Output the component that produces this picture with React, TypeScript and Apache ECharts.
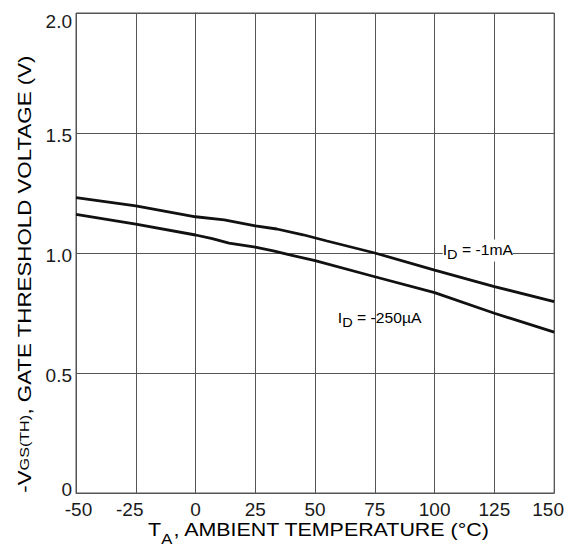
import React, { useEffect, useRef } from "react";
import * as echarts from "echarts";

const xTicks = [-50, -25, 0, 25, 50, 75, 100, 125, 150];
const yTicks = [0, 0.5, 1.0, 1.5, 2.0];

const tempA = [-50, -25, 0, 12, 25, 34, 45, 55, 75, 100, 125, 150];
const id1mA = [1.231, 1.196, 1.151, 1.138, 1.113, 1.1, 1.076, 1.05, 1.0, 0.929, 0.86, 0.797];

const tempB = [-50, -25, 0, 7, 14, 25, 33, 39, 50, 75, 100, 125, 150];
const id250uA = [1.161, 1.12, 1.075, 1.06, 1.041, 1.024, 1.008, 0.993, 0.968, 0.901, 0.835, 0.749, 0.67];

const labelA = { text: "-1mA", x: 103.4, y: 1.01 };
const labelB = { text: "-250µA", x: 59.5, y: 0.729 };

const FONT = "Liberation Sans";
const INK = "#1a1a1a";

export default function App() {
  const ref = useRef<HTMLDivElement>(null);
  useEffect(() => {
    document.body.style.margin = "0";
    const chart = echarts.init(ref.current!, null, { renderer: "svg" });
    const tick = { fontSize: 19, fontFamily: FONT, color: INK };
    chart.setOption({
      animation: false,
      backgroundColor: "#fff",
      grid: {
        left: 76,
        right: 12,
        top: 13,
        bottom: 54,
        show: true,
        borderColor: "#555",
        borderWidth: 1,
        backgroundColor: "transparent",
      },
      xAxis: {
        type: "value",
        min: xTicks[0],
        max: xTicks[xTicks.length - 1],
        interval: 25,
        axisLine: { show: true, lineStyle: { color: "#555", width: 1 } },
        axisTick: { show: false },
        splitLine: { show: true, lineStyle: { color: "#555", width: 1 } },
        axisLabel: {
          ...tick,
          margin: 7,
          formatter: (v: number) => {
            if (v === xTicks[0]) return "{l|" + v + "}";
            if (v === xTicks[xTicks.length - 1]) return "{r|" + v + "}";
            if (v < 0) return "{r|" + v + "}";
            return "{n|" + v + "}";
          },
          rich: {
            n: { ...tick },
            l: { ...tick, padding: [0, 0, 0, 5] },
            r: { ...tick, padding: [0, 12, 0, 0] },
          },
        },
      },
      yAxis: {
        type: "value",
        min: yTicks[0],
        max: yTicks[yTicks.length - 1],
        interval: 0.5,
        axisLine: { show: true, lineStyle: { color: "#555", width: 1 } },
        axisTick: { show: false },
        splitLine: { show: true, lineStyle: { color: "#555", width: 1 } },
        axisLabel: {
          ...tick,
          margin: 4,
          formatter: (v: number) => {
            if (v === 0) return "{b|0}";
            if (v === yTicks[yTicks.length - 1]) return "{t|" + v.toFixed(1) + "}";
            return "{m|" + v.toFixed(1) + "}";
          },
          rich: {
            t: { ...tick, padding: [16, 0, 0, 0] },
            m: { ...tick, padding: [4, 0, 0, 0] },
            b: { ...tick, padding: [0, 0, 7, 0] },
          },
        },
      },
      series: [
        {
          type: "line",
          data: tempA.map((t, i) => [t, id1mA[i]]),
          symbol: "none",
          lineStyle: { color: "#111", width: 2.8 },
        },
        {
          type: "line",
          data: tempB.map((t, i) => [t, id250uA[i]]),
          symbol: "none",
          lineStyle: { color: "#111", width: 2.8 },
        },
      ],
    });
    const pA = chart.convertToPixel({ gridIndex: 0 }, [labelA.x, labelA.y]);
    const pB = chart.convertToPixel({ gridIndex: 0 }, [labelB.x, labelB.y]);
    const small = {
      m: { fontSize: 14, fontFamily: FONT, color: INK },
      s: { fontSize: 13, fontFamily: FONT, color: INK, padding: [9, 0, 0, 0] },
    };
    chart.setOption({
      graphic: [
        {
          type: "text",
          x: pA[0],
          y: pA[1],
          scaleX: 1.12,
          z: 10,
          style: {
            text: "{m|I}{s|D}{m| = " + labelA.text + "}",
            rich: small,
            align: "left",
            verticalAlign: "middle",
            backgroundColor: "#fff",
          },
        },
        {
          type: "text",
          x: pB[0],
          y: pB[1],
          scaleX: 1.12,
          z: 10,
          style: {
            text: "{m|I}{s|D}{m| = " + labelB.text + "}",
            rich: small,
            align: "left",
            verticalAlign: "middle",
          },
        },
        {
          type: "text",
          x: 319,
          y: 530,
          scaleX: 1.19,
          style: {
            text: "{m|T}{s|A}{m|, AMBIENT TEMPERATURE (°C)}",
            rich: {
              m: { fontSize: 18, fontFamily: FONT, color: INK },
              s: { fontSize: 14, fontFamily: FONT, color: INK, padding: [18, 0, 0, 0] },
            },
            align: "center",
            verticalAlign: "middle",
          },
        },
        {
          type: "text",
          x: 25,
          y: 274,
          rotation: Math.PI / 2,
          scaleX: 1.24,
          style: {
            text: "{m|-V}{s|GS(TH)}{m|, GATE THRESHOLD VOLTAGE (V)}",
            rich: {
              m: { fontSize: 18, fontFamily: FONT, color: INK },
              s: { fontSize: 13, fontFamily: FONT, color: INK },
            },
            align: "center",
            verticalAlign: "middle",
          },
        },
      ],
    });
    return () => chart.dispose();
  }, []);
  return <div ref={ref} style={{ width: 567, height: 547 }} />;
}
